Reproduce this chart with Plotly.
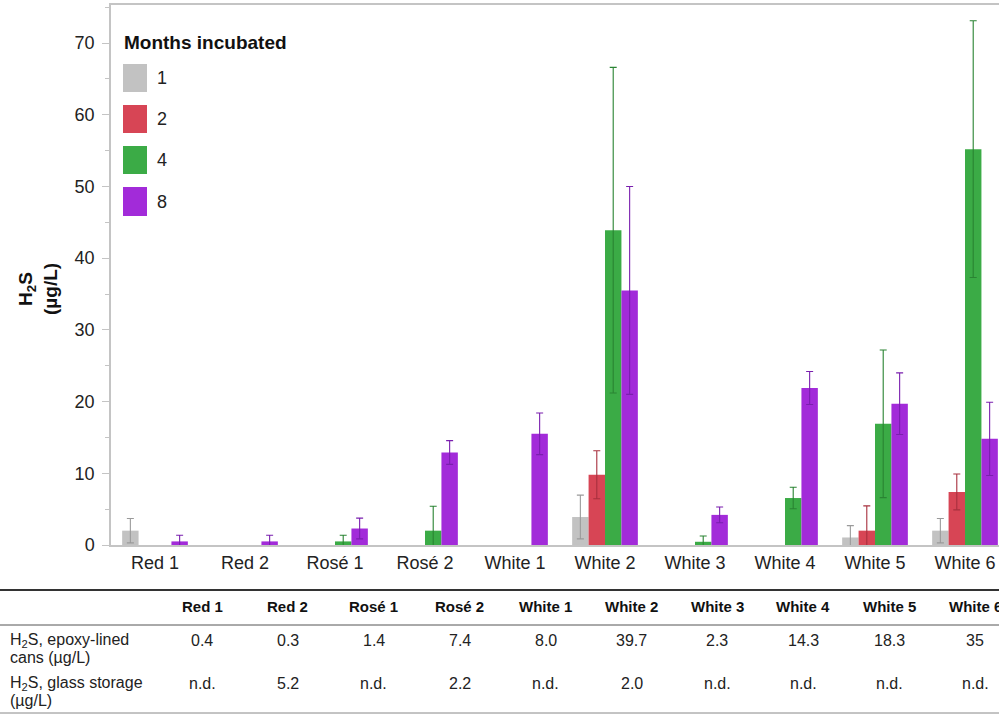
import plotly.graph_objects as go

# ---------------- data ----------------
wines = ["Red 1", "Red 2", "Rosé 1", "Rosé 2", "White 1",
         "White 2", "White 3", "White 4", "White 5", "White 6"]

months = ["1", "2", "4", "8"]

h2s_m1 = [2.0, None, None, None, None, 3.9, None, None, 1.05, 2.0]
h2s_m2 = [None, None, None, None, None, 9.8, None, None, 2.0, 7.4]
h2s_m4 = [None, None, 0.5, 2.0, None, 43.9, 0.45, 6.55, 16.9, 55.2]
h2s_m8 = [0.5, 0.5, 2.3, 12.9, 15.5, 35.5, 4.2, 21.9, 19.7, 14.8]

err_m1 = [1.7, None, None, None, None, 3.05, None, None, 1.65, 1.7]
err_m2 = [None, None, None, None, None, 3.35, None, None, 3.45, 2.5]
err_m4 = [None, None, 0.85, 3.4, None, 22.7, 0.8, 1.5, 10.3, 17.9]
err_m8 = [0.85, 0.85, 1.45, 1.65, 2.9, 14.5, 1.1, 2.3, 4.3, 5.1]

table_header = wines
epoxy_cans = ["0.4", "0.3", "1.4", "7.4", "8.0", "39.7", "2.3", "14.3", "18.3", "35"]
glass_storage = ["n.d.", "5.2", "n.d.", "2.2", "n.d.", "2.0", "n.d.", "n.d.", "n.d.", "n.d."]
row_labels = [["H<sub>2</sub>S, epoxy-lined", "cans (µg/L)"],
              ["H<sub>2</sub>S, glass storage", "(µg/L)"]]

# ---------------- styles ----------------
FONT = "Liberation Sans, Arial, Helvetica, sans-serif"
bar_colors = ["#c2c2c2", "#d74555", "#3bab46", "#a22bd9"]
err_colors = ["#9a9a9a", "#a8303e", "#2a8433", "#7a1fae"]
AXIS_GREY = "#c4c4c4"

W, H = 999, 715
ML, MR, MT, MB = 111, 0, 5, 170
PW, PH = W - ML - MR, H - MT - MB


def px_x(px):
    return (px - ML) / PW


def px_y(py):
    return (H - MB - py) / PH


fig = go.Figure()
series = [h2s_m1, h2s_m2, h2s_m4, h2s_m8]
errors = [err_m1, err_m2, err_m4, err_m8]
for name, vals, errs, c, ec in zip(months, series, errors, bar_colors, err_colors):
    fig.add_trace(go.Bar(
        x=wines, y=vals, name=name,
        marker=dict(color=c, line=dict(width=0)),
        error_y=dict(type="data", array=errs, visible=True,
                     color=ec, thickness=1.1, width=3.5),
        showlegend=False,
    ))

fig.update_layout(
    width=W, height=H,
    margin=dict(l=ML, r=MR, t=MT, b=MB, pad=0),
    paper_bgcolor="white", plot_bgcolor="white",
    barmode="group", bargap=0.27, bargroupgap=0,
    font=dict(family=FONT, color="#222222", size=16),
    xaxis=dict(
        type="category",
        range=[-(155 - ML) / 90, (W - 155) / 90],
        showline=True, linecolor=AXIS_GREY, linewidth=1.5,
        mirror=True, ticks="", showgrid=False, zeroline=False,
        tickfont=dict(size=18, color="#222222", family=FONT),
        ticklabelstandoff=1,
    ),
    yaxis=dict(
        range=[0, (545 - 5) / 7.171],
        tickvals=[0, 10, 20, 30, 40, 50, 60, 70],
        showline=True, linecolor=AXIS_GREY, linewidth=1.5,
        ticks="outside", ticklen=7, tickcolor=AXIS_GREY, tickwidth=1,
        minor=dict(tickvals=[5, 15, 25, 35, 45, 55, 65, 75], ticks="outside",
                   ticklen=4, tickcolor=AXIS_GREY, tickwidth=1),
        showgrid=False, zeroline=False,
        tickfont=dict(size=18, color="#222222", family=FONT),
        ticklabelstandoff=4,
    ),
)

annotations = []
shapes = []

# y-axis title
annotations.append(dict(
    xref="paper", yref="paper", x=px_x(38), y=px_y(289),
    text="<b>H<sub>2</sub>S<br>(µg/L)</b>", textangle=-90,
    showarrow=False, font=dict(size=19, family=FONT, color="#111111"),
    xanchor="center", yanchor="middle", align="center"))

# custom legend
annotations.append(dict(
    xref="paper", yref="paper", x=px_x(122), y=px_y(42),
    text="<b>Months incubated</b>", showarrow=False,
    font=dict(size=19, family=FONT, color="#111111"),
    xanchor="left", yanchor="middle"))
legend_rows = [(64, 92), (105, 133), (146, 174), (187, 216)]
for (y0, y1), name, c in zip(legend_rows, months, bar_colors):
    shapes.append(dict(type="rect", xref="paper", yref="paper",
                       x0=px_x(123), x1=px_x(147), y0=px_y(y1), y1=px_y(y0),
                       fillcolor=c, line=dict(width=0)))
    annotations.append(dict(
        xref="paper", yref="paper", x=px_x(155), y=px_y((y0 + y1) / 2),
        text=name, showarrow=False,
        font=dict(size=18, family=FONT, color="#222222"),
        xanchor="left", yanchor="middle"))

# table below the chart
col_x = [202 + 85.9 * i for i in range(len(table_header))]
for cx, head, v1, v2 in zip(col_x, table_header, epoxy_cans, glass_storage):
    annotations.append(dict(xref="paper", yref="paper", x=px_x(cx), y=px_y(607),
                            text=f"<b>{head}</b>", showarrow=False,
                            font=dict(size=15, family=FONT, color="#111111"),
                            xanchor="center", yanchor="middle"))
    annotations.append(dict(xref="paper", yref="paper", x=px_x(cx), y=px_y(640),
                            text=v1, showarrow=False,
                            font=dict(size=16, family=FONT, color="#222222"),
                            xanchor="center", yanchor="middle"))
    annotations.append(dict(xref="paper", yref="paper", x=px_x(cx), y=px_y(683),
                            text=v2, showarrow=False,
                            font=dict(size=16, family=FONT, color="#222222"),
                            xanchor="center", yanchor="middle"))

label_y = [(640, 657), (683, 700)]
for (ya, yb), lines in zip(label_y, row_labels):
    for yy, txt in zip((ya, yb), lines):
        annotations.append(dict(xref="paper", yref="paper", x=px_x(8), y=px_y(yy),
                                text=txt, showarrow=False,
                                font=dict(size=16, family=FONT, color="#222222"),
                                xanchor="left", yanchor="middle"))

for yy, col, wdt in [(590, "#333333", 2), (625, "#555555", 1), (713, "#888888", 1)]:
    shapes.append(dict(type="line", xref="paper", yref="paper",
                       x0=px_x(0), x1=px_x(W), y0=px_y(yy), y1=px_y(yy),
                       line=dict(color=col, width=wdt)))

fig.update_layout(annotations=annotations, shapes=shapes)

fig.write_html(
    "out.html", include_plotlyjs=True, config={"displayModeBar": False},
    post_script="document.body.style.margin='0px';"
                "document.body.style.overflow='hidden';"
                "document.documentElement.style.overflow='hidden';",
)
